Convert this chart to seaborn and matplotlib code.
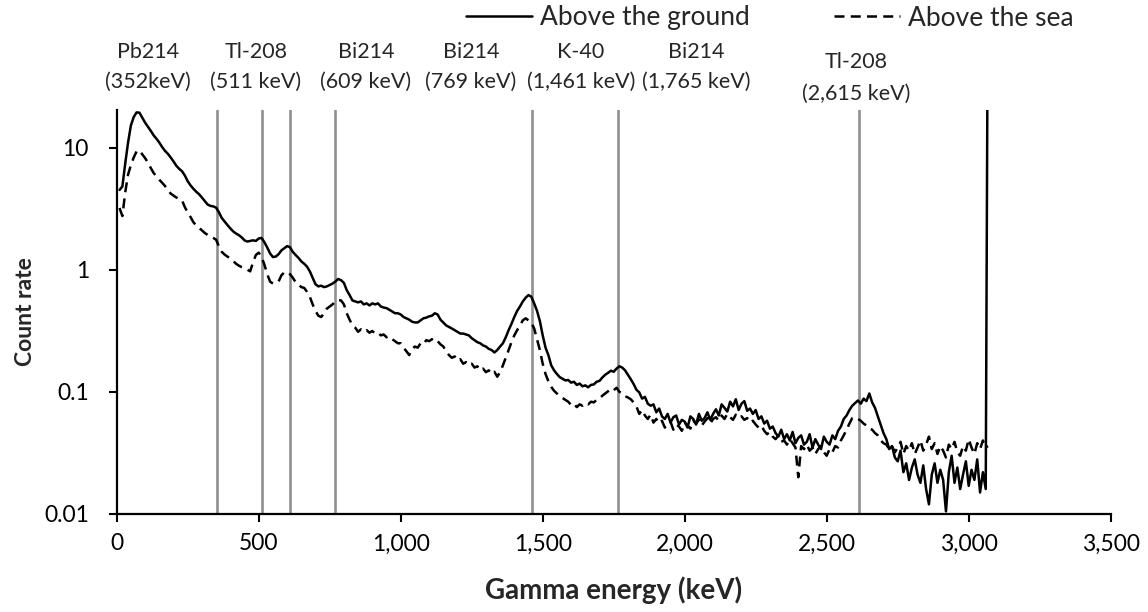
import numpy as np
import matplotlib
matplotlib.use("Agg")
import matplotlib.pyplot as plt
import seaborn as sns

# Channel energies (keV): 10 keV bins, plus the final overflow channel
energy = np.append(np.arange(10, 3070, 10), 3068)

# Count rate measured above the ground
above_ground = [
    4.5, 4.8, 7.4, 11.0, 15.2, 17.8, 19.4, 19.3, 17.6, 16.0,
    14.8, 13.7, 12.6, 11.8, 11.0, 10.1, 9.4, 8.9, 8.3, 7.7,
    7.1, 6.7, 6.4, 5.9, 5.3, 4.9, 4.6, 4.35, 4.15, 3.9,
    3.65, 3.42, 3.33, 3.3, 3.22, 2.95, 2.65, 2.48, 2.32, 2.18,
    2.06, 1.98, 1.92, 1.84, 1.74, 1.70, 1.72, 1.74, 1.72, 1.80,
    1.82, 1.68, 1.52, 1.36, 1.27, 1.28, 1.34, 1.44, 1.50, 1.56,
    1.53, 1.40, 1.32, 1.25, 1.17, 1.12, 1.06, 0.97, 0.86, 0.76,
    0.73, 0.74, 0.72, 0.73, 0.75, 0.77, 0.80, 0.84, 0.82, 0.78,
    0.68, 0.62, 0.56, 0.55, 0.54, 0.55, 0.52, 0.53, 0.51, 0.53,
    0.52, 0.53, 0.50, 0.49, 0.485, 0.47, 0.455, 0.44, 0.44, 0.43,
    0.41, 0.40, 0.39, 0.375, 0.37, 0.37, 0.385, 0.40, 0.405, 0.415,
    0.42, 0.44, 0.43, 0.39, 0.37, 0.35, 0.34, 0.33, 0.32, 0.31,
    0.30, 0.30, 0.295, 0.29, 0.275, 0.265, 0.255, 0.25, 0.24, 0.235,
    0.225, 0.22, 0.21, 0.22, 0.235, 0.25, 0.28, 0.32, 0.36, 0.41,
    0.46, 0.50, 0.55, 0.59, 0.62, 0.60, 0.53, 0.46, 0.38, 0.29,
    0.23, 0.20, 0.165, 0.150, 0.140, 0.132, 0.128, 0.124, 0.125, 0.119,
    0.121, 0.114, 0.117, 0.111, 0.113, 0.109, 0.114, 0.115, 0.121, 0.123,
    0.131, 0.138, 0.143, 0.149, 0.146, 0.155, 0.162, 0.158, 0.150, 0.138,
    0.127, 0.116, 0.104, 0.099, 0.088, 0.091, 0.080, 0.077, 0.079, 0.068,
    0.073, 0.063, 0.060, 0.066, 0.056, 0.062, 0.064, 0.054, 0.059, 0.057,
    0.051, 0.063, 0.060, 0.054, 0.066, 0.058, 0.061, 0.068, 0.059, 0.066,
    0.072, 0.064, 0.079, 0.074, 0.069, 0.083, 0.076, 0.087, 0.071, 0.080,
    0.084, 0.070, 0.073, 0.066, 0.071, 0.060, 0.063, 0.055, 0.058, 0.050,
    0.052, 0.046, 0.043, 0.049, 0.041, 0.045, 0.040, 0.047, 0.038, 0.042,
    0.044, 0.037, 0.039, 0.045, 0.035, 0.041, 0.037, 0.034, 0.043, 0.039,
    0.037, 0.044, 0.041, 0.048, 0.052, 0.060, 0.064, 0.071, 0.077, 0.081,
    0.085, 0.080, 0.088, 0.084, 0.097, 0.082, 0.074, 0.063, 0.054, 0.046,
    0.041, 0.034, 0.036, 0.029, 0.027, 0.033, 0.022, 0.026, 0.019, 0.024,
    0.028, 0.021, 0.018, 0.025, 0.016, 0.012, 0.021, 0.026, 0.018, 0.023,
    0.019, 0.0105, 0.022, 0.030, 0.018, 0.024, 0.016, 0.021, 0.027, 0.017,
    0.023, 0.019, 0.028, 0.015, 0.022, 0.016,
    500.0,
]

# Count rate measured above the sea
above_sea = [
    3.2, 2.75, 4.3, 6.0, 7.2, 8.3, 9.3, 9.5, 8.8, 8.2,
    7.5, 6.8, 6.2, 5.8, 5.45, 5.15, 4.85, 4.5, 4.2, 4.05,
    3.9, 3.8, 3.7, 3.25, 2.95, 2.7, 2.45, 2.3, 2.2, 2.1,
    2.0, 1.93, 1.87, 1.82, 1.76, 1.55, 1.40, 1.33, 1.28, 1.24,
    1.18, 1.12, 1.08, 1.05, 1.03, 1.00, 0.97, 1.15, 1.32, 1.38,
    1.28, 1.10, 0.92, 0.80, 0.77, 0.78, 0.80, 0.90, 0.95, 0.96,
    0.92, 0.86, 0.79, 0.76, 0.72, 0.71, 0.66, 0.60, 0.52, 0.46,
    0.42, 0.41, 0.44, 0.48, 0.50, 0.52, 0.55, 0.565, 0.56, 0.52,
    0.44, 0.39, 0.35, 0.335, 0.31, 0.325, 0.31, 0.32, 0.305, 0.315,
    0.30, 0.305, 0.29, 0.295, 0.28, 0.285, 0.27, 0.26, 0.25, 0.25,
    0.23, 0.215, 0.20, 0.225, 0.235, 0.23, 0.25, 0.245, 0.265, 0.26,
    0.27, 0.255, 0.26, 0.245, 0.235, 0.215, 0.20, 0.19, 0.195, 0.18,
    0.185, 0.17, 0.175, 0.165, 0.17, 0.158, 0.162, 0.15, 0.155, 0.145,
    0.15, 0.14, 0.146, 0.133, 0.145, 0.165, 0.19, 0.22, 0.255, 0.29,
    0.32, 0.35, 0.385, 0.40, 0.385, 0.37, 0.33, 0.27, 0.22, 0.17,
    0.14, 0.122, 0.11, 0.102, 0.097, 0.093, 0.089, 0.086, 0.083, 0.078,
    0.080, 0.075, 0.079, 0.077, 0.081, 0.079, 0.083, 0.082, 0.086, 0.088,
    0.093, 0.097, 0.101, 0.106, 0.103, 0.108, 0.100, 0.098, 0.092, 0.090,
    0.087, 0.082, 0.076, 0.066, 0.071, 0.064, 0.060, 0.065, 0.056, 0.060,
    0.055, 0.058, 0.051, 0.053, 0.057, 0.049, 0.054, 0.052, 0.048, 0.056,
    0.053, 0.050, 0.058, 0.055, 0.059, 0.053, 0.057, 0.061, 0.055, 0.060,
    0.062, 0.058, 0.064, 0.060, 0.066, 0.062, 0.059, 0.065, 0.061, 0.063,
    0.059, 0.061, 0.056, 0.058, 0.054, 0.051, 0.053, 0.048, 0.045, 0.047,
    0.043, 0.041, 0.044, 0.039, 0.040, 0.037, 0.041, 0.038, 0.035, 0.020,
    0.036, 0.034, 0.037, 0.033, 0.035, 0.031, 0.034, 0.036, 0.032, 0.030,
    0.034, 0.032, 0.036, 0.035, 0.040, 0.044, 0.049, 0.055, 0.061, 0.062,
    0.060, 0.058, 0.055, 0.053, 0.050, 0.049, 0.046, 0.044, 0.040, 0.038,
    0.037, 0.034, 0.036, 0.032, 0.035, 0.039, 0.031, 0.036, 0.033, 0.038,
    0.031, 0.035, 0.040, 0.033, 0.037, 0.043, 0.034, 0.038, 0.031, 0.036,
    0.033, 0.029, 0.037, 0.034, 0.039, 0.032, 0.030, 0.036, 0.033, 0.041,
    0.035, 0.031, 0.038, 0.034, 0.040, 0.035,
    0.036,
]

# Reference gamma lines
peak_energies = [352, 511, 609, 769, 1461, 1765, 2615]
peak_nuclides = ["Pb214", "Tl-208", "Bi214", "Bi214", "K-40", "Bi214", "Tl-208"]
peak_texts = ["(352keV)", "(511 keV)", "(609 keV)", "(769 keV)",
              "(1,461 keV)", "(1,765 keV)", "(2,615 keV)"]

x_ticks = [0, 500, 1000, 1500, 2000, 2500, 3000, 3500]
x_tick_labels = ["0", "500", "1,000", "1,500", "2,000", "2,500", "3,000", "3,500"]
y_ticks = [0.01, 0.1, 1, 10]
y_tick_labels = ["0.01", "0.1", "1", "10"]

sns.set_theme(style="white")
plt.rcParams["font.family"] = ["Lato", "DejaVu Sans"]

W, H = 1148, 612
fig = plt.figure(figsize=(W / 100, H / 100), dpi=100)
ax = fig.add_axes([116.7 / W, 1 - 514 / H, 994 / W, 404 / H])

for e in peak_energies:
    ax.axvline(e, color="#8f8f8f", lw=1.9, zorder=1)

sns.lineplot(x=energy, y=above_ground, ax=ax, color="black", lw=1.8,
             estimator=None, sort=False, label="Above the ground", zorder=3)
sns.lineplot(x=energy, y=above_sea, ax=ax, color="black", lw=1.8,
             estimator=None, sort=False, label="Above the sea", zorder=2,
             dashes=False, linestyle=(0, (4.0, 2.5)))

ax.set_yscale("log")
ax.set_xlim(0, 3500)
ax.set_ylim(0.01, 20.3)
ax.set_xticks(x_ticks, x_tick_labels)
ax.set_yticks(y_ticks, y_tick_labels)
ax.yaxis.set_minor_locator(matplotlib.ticker.NullLocator())
ax.tick_params(axis="both", which="major", direction="out", length=6,
               width=1.5, color="black", labelsize=16.5, labelcolor="black",
               bottom=True, left=True)
ax.tick_params(axis="y", pad=14)
ax.tick_params(axis="x", pad=8)
for side in ("top", "right"):
    ax.spines[side].set_visible(False)
for side in ("left", "bottom"):
    ax.spines[side].set_color("black")
    ax.spines[side].set_linewidth(1.6)

ax.set_xlabel("Gamma energy (keV)", fontsize=20, fontweight="bold", labelpad=16)
ax.set_ylabel("Count rate", fontsize=16.5, fontweight="bold", labelpad=6)

# Nuclide labels above the plot
label_x_px = [148, 256, 366, 471, 581, 696, 856]
label_y_px = [[52, 82]] * 6 + [[62, 94]]
for name, txt, xp, (y1, y2) in zip(peak_nuclides, peak_texts, label_x_px, label_y_px):
    fig.text(xp / W, 1 - y1 / H, name, ha="center", va="center", fontsize=15.5)
    fig.text(xp / W, 1 - y2 / H, txt, ha="center", va="center", fontsize=15.5)

leg = ax.legend(loc="center", bbox_to_anchor=(770 / W, 1 - 18 / H),
                bbox_transform=fig.transFigure, ncol=2, frameon=False,
                fontsize=19, handlelength=2.5, handletextpad=0.3,
                columnspacing=3.2, borderpad=0)

fig.savefig("out.png", dpi=100)
